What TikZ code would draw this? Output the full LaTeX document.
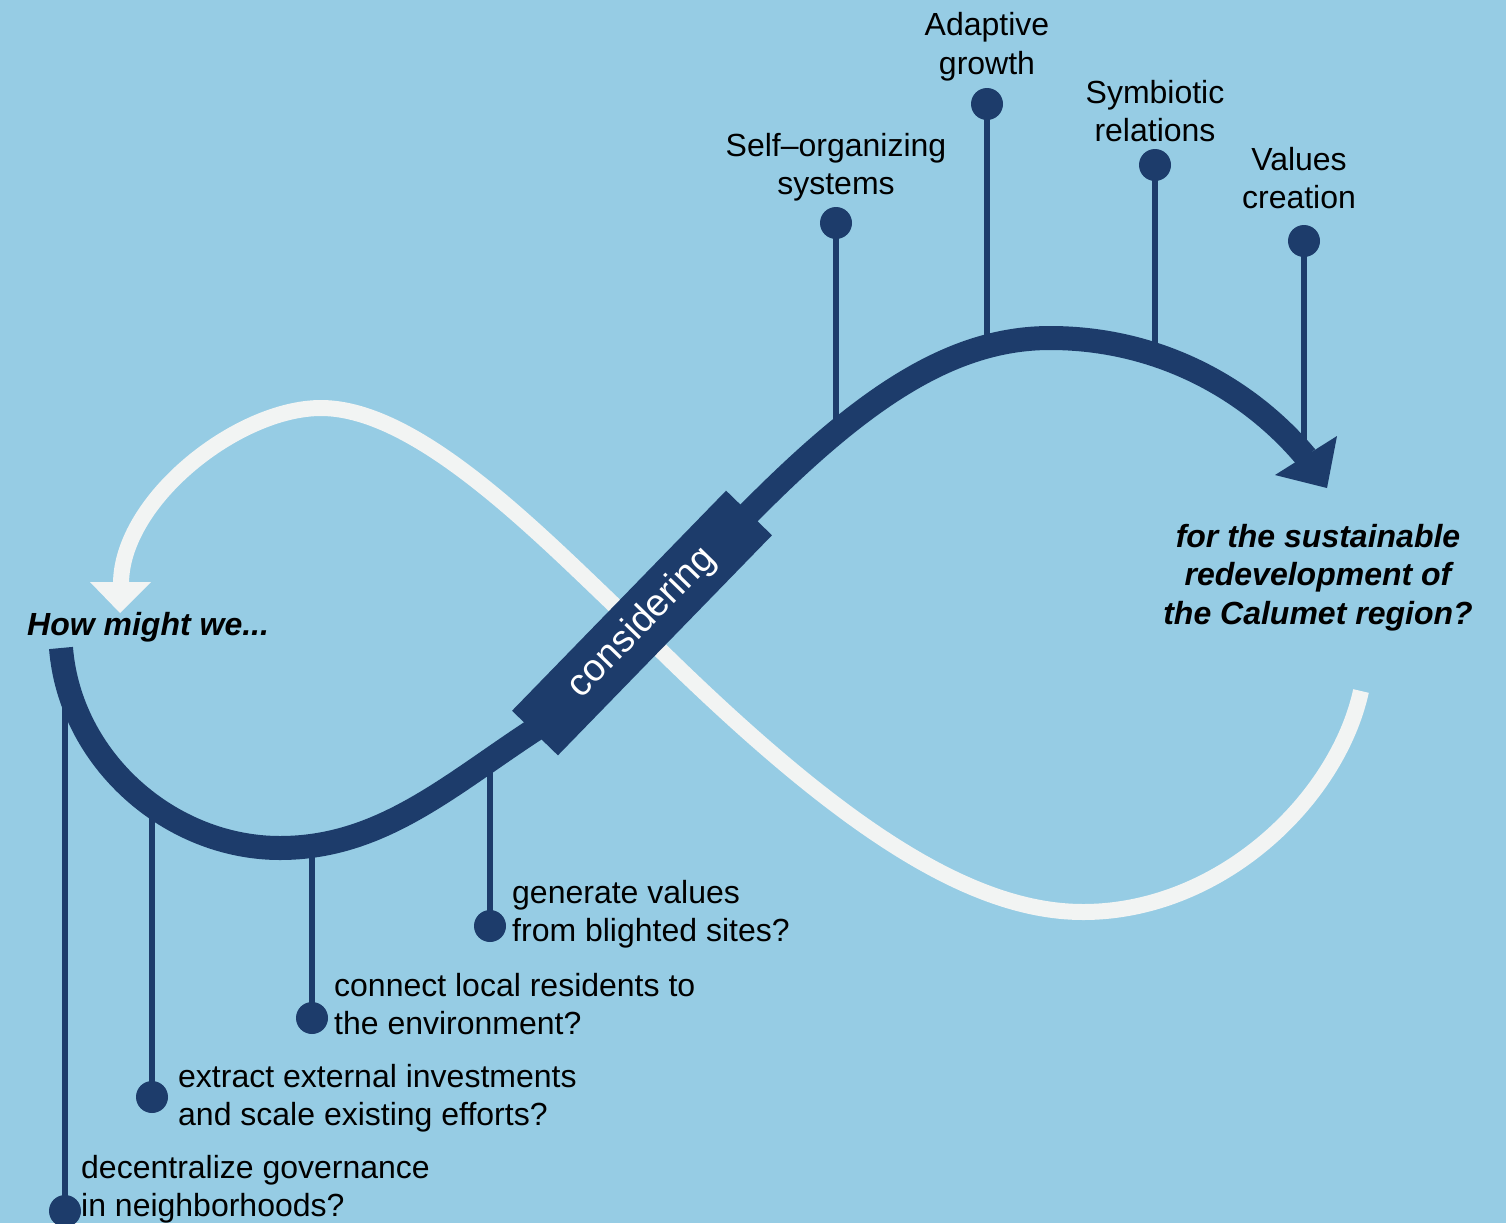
\documentclass[tikz,border=0pt]{standalone}
\usepackage{fontspec}
\setmainfont{Liberation Sans}
\definecolor{bgblue}{HTML}{96CCE4}
\definecolor{navy}{HTML}{1D3C6B}
\definecolor{offwhite}{HTML}{F2F4F3}
\begin{document}
\begin{tikzpicture}[x=1pt,y=-1pt,
  dot/.style={circle, fill=navy, minimum size=32pt, inner sep=0pt},
  stem/.style={draw=navy, line width=6.5pt},
  mainpath/.style={draw=navy, line width=24pt},
  backpath/.style={draw=offwhite, line width=16pt},
  lbl/.style={font=\fontsize{32}{38.5}\selectfont, inner sep=0pt, text=black},
  hmw/.style={font=\fontsize{32}{38.5}\selectfont\bfseries\itshape, inner sep=0pt, text=black},
  consbox/.style={rotate=45.8, fill=navy, minimum width=307pt, minimum height=64pt, inner sep=0pt, text=white, font=\fontsize{38}{46}\selectfont}
]
\fill[bgblue] (0,0) rectangle (1506,1223);
\useasboundingbox (0,0) rectangle (1506,1223);

% white return path
\coordinate (w0) at (1361,691);
\coordinate (w1) at (1083,912);
\coordinate (w2) at (635,625);
\coordinate (w3) at (321,408);
\coordinate (w4) at (121,584);
\draw[backpath] (w0) .. controls (1337,800) and (1220,912) .. (w1)
  .. controls (960,912) and (820,810) .. (w2)
  .. controls (545,540) and (420,408) .. (w3)
  .. controls (238,408) and (121,500) .. (w4);
\coordinate (wa1) at (90,582);
\coordinate (wa2) at (151,582);
\coordinate (wa3) at (120,613);
\fill[offwhite] (wa1) -- (wa2) -- (wa3) -- cycle;

% stems and dots
\coordinate (s1) at (836,425);
\coordinate (s2) at (987,345);
\coordinate (s3) at (1155,355);
\coordinate (s4) at (1304,455);
\coordinate (b1) at (65,690);
\coordinate (b2) at (152,805);
\coordinate (b3) at (312,845);
\coordinate (b4) at (490,758);
\node[dot] (d1) at (836,223) {};
\node[dot] (d2) at (987,104) {};
\node[dot] (d3) at (1155,165) {};
\node[dot] (d4) at (1304,241) {};
\node[dot] (e1) at (65,1211) {};
\node[dot] (e2) at (152,1097) {};
\node[dot] (e3) at (312,1018) {};
\node[dot] (e4) at (490,926) {};
\draw[stem] (d1.center) -- (s1);
\draw[stem] (d2.center) -- (s2);
\draw[stem] (d3.center) -- (s3);
\draw[stem] (d4.center) -- (s4);
\draw[stem] (e1.center) -- (b1);
\draw[stem] (e2.center) -- (b2);
\draw[stem] (e3.center) -- (b3);
\draw[stem] (e4.center) -- (b4);

% main path
\coordinate (m0) at (61,648);
\coordinate (m1) at (280,848);
\coordinate (m2) at (545,723);
\coordinate (m3) at (745,517);
\coordinate (m4) at (1050,338);
\coordinate (m5) at (1306,457);
\draw[mainpath] (m0) .. controls (70,760) and (170,848) .. (m1)
  .. controls (385,848) and (455,780) .. (m2) -- (m3)
  .. controls (860,400) and (950,338) .. (m4)
  .. controls (1160,338) and (1250,390) .. (m5);
\coordinate (ma1) at (1275,475);
\coordinate (ma2) at (1337,436);
\coordinate (ma3) at (1327,488);
\fill[navy] (ma1) -- (ma2) -- (ma3) -- cycle;

\node[consbox] (cons) at (642,623) {considering};

% top labels
\node[lbl, anchor=base] (t1) at (836,156) {\begin{tabular}[t]{@{}c@{}}Self–organizing\\systems\end{tabular}};
\node[lbl, anchor=base] (t2) at (987,36) {\begin{tabular}[t]{@{}c@{}}Adaptive\\growth\end{tabular}};
\node[lbl, anchor=base] (t3) at (1155,103) {\begin{tabular}[t]{@{}c@{}}Symbiotic\\relations\end{tabular}};
\node[lbl, anchor=base] (t4) at (1299,170) {\begin{tabular}[t]{@{}c@{}}Values\\creation\end{tabular}};

% bottom labels
\node[lbl, anchor=base west] (u4) at (512,903) {\begin{tabular}[t]{@{}l@{}}generate values\\from blighted sites?\end{tabular}};
\node[lbl, anchor=base west] (u3) at (334,996) {\begin{tabular}[t]{@{}l@{}}connect local residents to\\the environment?\end{tabular}};
\node[lbl, anchor=base west] (u2) at (178,1087) {\begin{tabular}[t]{@{}l@{}}extract external investments\\and scale existing efforts?\end{tabular}};
\node[lbl, anchor=base west] (u1) at (81,1178) {\begin{tabular}[t]{@{}l@{}}decentralize governance\\in neighborhoods?\end{tabular}};

% question parts
\node[hmw, anchor=base west] (how) at (27,635) {How might we...};
\node[hmw, anchor=base] (goal) at (1318,547) {\begin{tabular}[t]{@{}c@{}}for the sustainable\\redevelopment of\\the Calumet region?\end{tabular}};
\end{tikzpicture}
\end{document}
